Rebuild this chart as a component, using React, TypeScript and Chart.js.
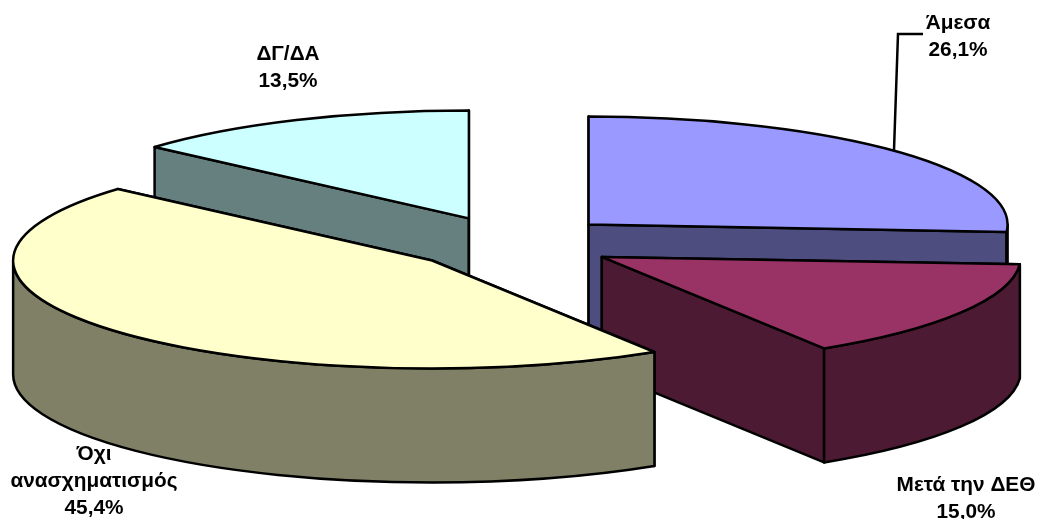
import React, { useEffect, useRef } from "react";
import { Chart, registerables } from "chart.js";

Chart.register(...registerables);

const categories: string[][] = [["Άμεσα"], ["Μετά την ΔΕΘ"], ["Όχι", "ανασχηματισμός"], ["ΔΓ/ΔΑ"]];
const shares: number[] = [26.1, 15.0, 45.4, 13.5];
const topColors: string[] = ["#9999FF", "#993366", "#FFFFCC", "#CCFFFF"];
const wallColors: string[] = ["#4D4D80", "#4D1A33", "#808066", "#668080"];

// drawing order: back slices first, front slices last
const paintOrder: number[] = [3, 0, 1, 2];

// label anchors (centre x, first baseline y)
const labelAnchors: [number, number][] = [[958, 29], [966, 491], [94, 460], [288, 60]];
const LINE_HEIGHT = 27;
const FONT = 'bold 20.8px "Liberation Sans", Arial, sans-serif';
const STROKE = 2.5;

const RADIUS_X = 419;
const RADIUS_Y = 108;
const DEPTH = 114;
const EXPLOSION = 0.25;

const pie3d = {
  id: "pie3d",
  beforeDatasetsDraw(chart: any) {
    const ctx: CanvasRenderingContext2D = chart.ctx;
    // text sits under the pie: the big slice's wall clips the top of its label
    ctx.save();
    ctx.fillStyle = "#000";
    ctx.font = FONT;
    ctx.textAlign = "center";
    ctx.textBaseline = "alphabetic";
    categories.forEach((lines, i) => {
      const [x, y] = labelAnchors[i];
      const pct = shares[i].toFixed(1).replace(".", ",") + "%";
      [...lines, pct].forEach((t, k) => ctx.fillText(t, x, y + k * LINE_HEIGHT));
    });
    ctx.strokeStyle = "#000";
    ctx.lineWidth = STROKE;
    ctx.beginPath();
    ctx.moveTo(894, 150);
    ctx.lineTo(898, 34);
    ctx.lineTo(923, 34);
    ctx.stroke();
    ctx.restore();
  },
  beforeDatasetDraw(chart: any) {
    const ctx: CanvasRenderingContext2D = chart.ctx;
    const arcs = chart.getDatasetMeta(0).data;
    ctx.save();
    ctx.strokeStyle = "#000";
    ctx.lineWidth = STROKE;
    ctx.lineJoin = "round";
    paintOrder.forEach((i) => {
      const arc = arcs[i];
      const a0: number = arc.startAngle;
      const a1: number = arc.endAngle;
      const mid = (a0 + a1) / 2;
      const ax = arc.x + RADIUS_X * EXPLOSION * Math.cos(mid);
      const ay = arc.y + RADIUS_Y * EXPLOSION * Math.sin(mid);
      const px = (a: number) => ax + RADIUS_X * Math.cos(a);
      const py = (a: number) => ay + RADIUS_Y * Math.sin(a);
      const paint = (color: string) => {
        ctx.fillStyle = color;
        ctx.fill();
        ctx.stroke();
      };
      // flat cut faces
      [a0, a1].forEach((a) => {
        ctx.beginPath();
        ctx.moveTo(ax, ay);
        ctx.lineTo(px(a), py(a));
        ctx.lineTo(px(a), py(a) + DEPTH);
        ctx.lineTo(ax, ay + DEPTH);
        ctx.closePath();
        paint(wallColors[i]);
      });
      // rim, only where it faces the viewer
      const f0 = Math.max(a0, 0);
      const f1 = Math.min(a1, Math.PI);
      if (f1 > f0) {
        ctx.beginPath();
        ctx.ellipse(ax, ay, RADIUS_X, RADIUS_Y, 0, f0, f1);
        ctx.ellipse(ax, ay + DEPTH, RADIUS_X, RADIUS_Y, 0, f1, f0, true);
        ctx.closePath();
        paint(wallColors[i]);
      }
      // top face
      ctx.beginPath();
      ctx.moveTo(ax, ay);
      ctx.ellipse(ax, ay, RADIUS_X, RADIUS_Y, 0, a0, a1);
      ctx.closePath();
      paint(arc.options.backgroundColor);
    });
    ctx.restore();
    return false;
  },
};

export default function App() {
  const ref = useRef<HTMLCanvasElement>(null);
  useEffect(() => {
    const chart = new Chart(ref.current as HTMLCanvasElement, {
      type: "pie",
      data: {
        labels: categories.map((c) => c.join(" ")),
        datasets: [{ data: shares, backgroundColor: topColors, borderWidth: 0 }],
      },
      options: {
        responsive: false,
        animation: false,
        layout: { padding: { left: 0, right: 17, top: 0, bottom: 33 } },
        plugins: { legend: { display: false }, tooltip: { enabled: false } },
      },
      plugins: [pie3d],
    } as any);
    return () => chart.destroy();
  }, []);
  return (
    <div style={{ position: "fixed", left: 0, top: 0, width: 1041, height: 519, background: "#fff" }}>
      <canvas ref={ref} width={1041} height={519} style={{ display: "block", width: 1041, height: 519 }} />
    </div>
  );
}
